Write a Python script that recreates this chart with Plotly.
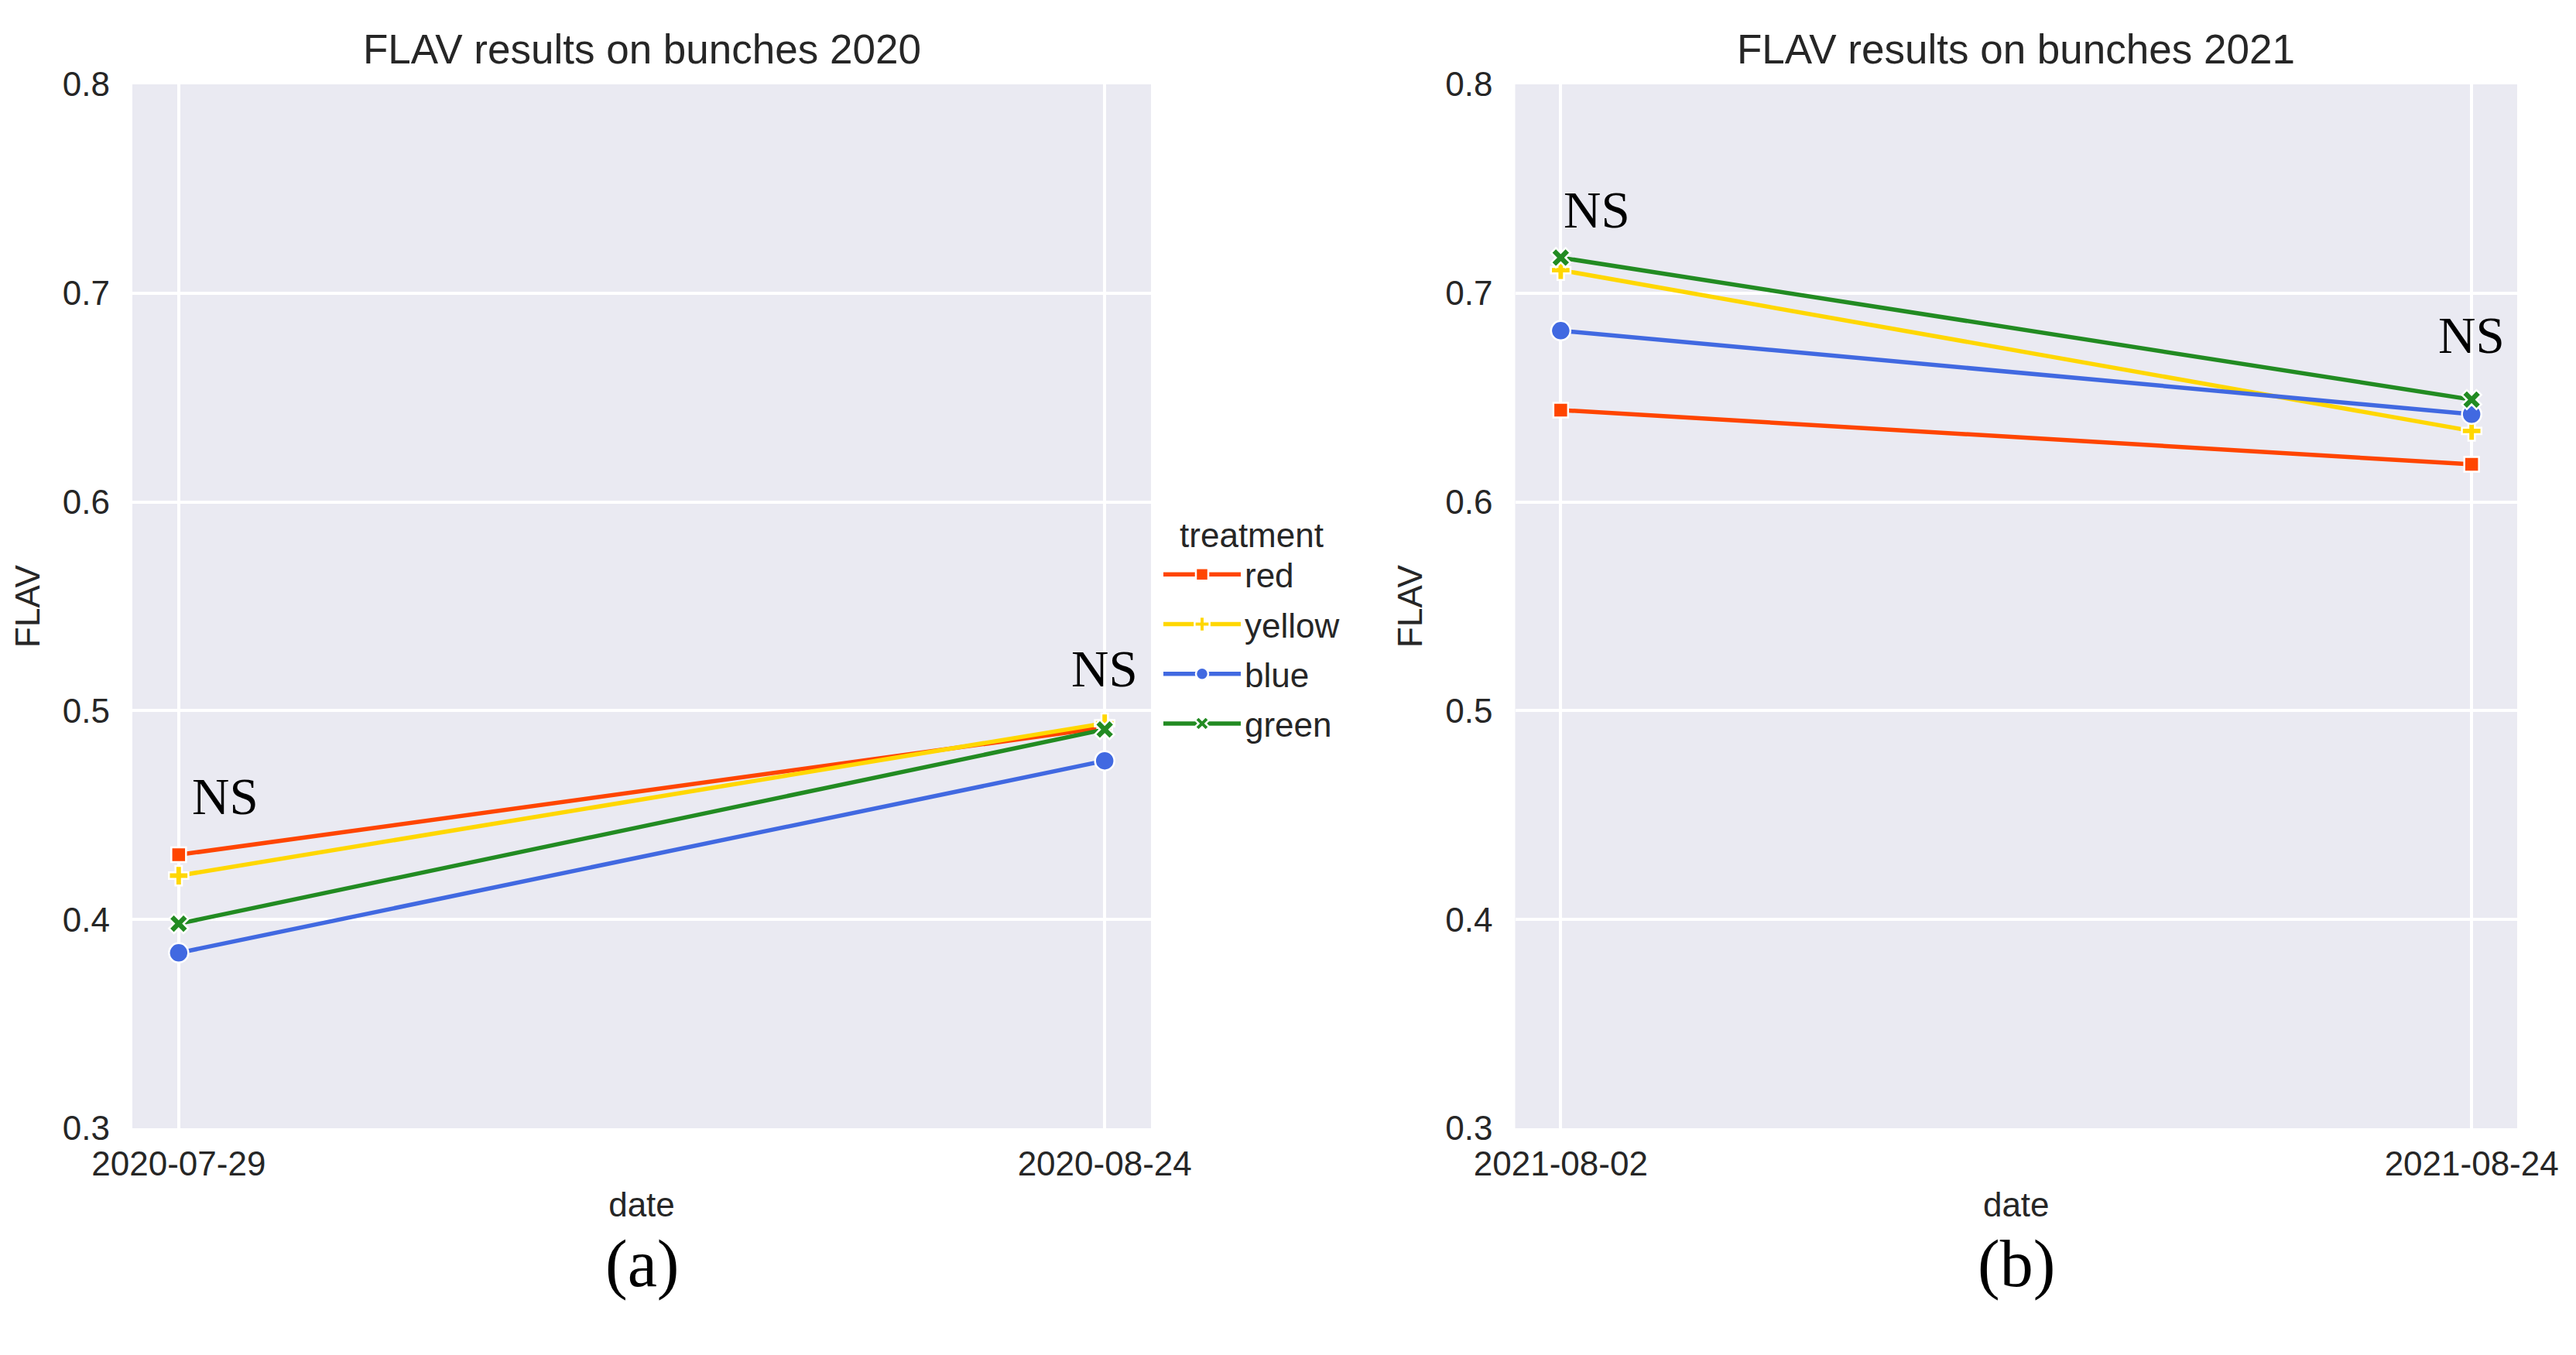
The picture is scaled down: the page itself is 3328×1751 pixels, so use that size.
import plotly.graph_objects as go
from plotly.subplots import make_subplots

# ---- data ----
treatments = ["red", "yellow", "blue", "green"]
colors = {"red": "#FF4500", "yellow": "#FFD700", "blue": "#4169E1", "green": "#228B22"}
symbols = {"red": "square", "yellow": "cross", "blue": "circle", "green": "x"}
msizes = {"red": 19, "yellow": 21, "blue": 25, "green": 22}

dates_2020 = ["2020-07-29", "2020-08-24"]
flav_2020 = {
    "red":    [0.431, 0.492],
    "yellow": [0.421, 0.494],
    "blue":   [0.384, 0.476],
    "green":  [0.398, 0.491],
}
dates_2021 = ["2021-08-02", "2021-08-24"]
flav_2021 = {
    "red":    [0.644, 0.618],
    "yellow": [0.711, 0.634],
    "blue":   [0.682, 0.642],
    "green":  [0.717, 0.649],
}
titles = ["FLAV results on bunches 2020", "FLAV results on bunches 2021"]
y_ticks = [0.3, 0.4, 0.5, 0.6, 0.7, 0.8]

# NS annotations (x index, y value) per panel
ns_2020 = [(0.05, 0.459), (1.0, 0.520)]
ns_2021 = [(0.04, 0.740), (1.0, 0.680)]
panel_labels = ["(a)", "(b)"]

W, H = 3328, 1751
OFF = 8  # page body margin
SANS = "Liberation Sans, Arial, sans-serif"
SERIF = "Liberation Serif, Times New Roman, serif"
TXT = "#262626"


def px(x):
    return (x - OFF) / W


def py(y):
    return 1 - (y - OFF) / H


fig = make_subplots(rows=1, cols=2)

for col, (dates, data) in enumerate([(dates_2020, flav_2020), (dates_2021, flav_2021)], start=1):
    for t in treatments:
        fig.add_trace(go.Scatter(
            x=dates, y=data[t], mode="lines+markers", name=t,
            legendgroup=t, showlegend=(col == 1),
            line=dict(color=colors[t], width=5.5),
            marker=dict(symbol=symbols[t], size=msizes[t], color=colors[t],
                        line=dict(color="white", width=2.5)),
        ), row=1, col=col)

dom1 = [px(171), px(1487)]
dom2 = [px(1957.5), px(3252)]
ydom = [py(1458), py(109)]

axis_common = dict(
    showgrid=True, gridcolor="white", gridwidth=3.5, zeroline=False, showline=False,
    tickfont=dict(family=SANS, size=44, color=TXT),
    ticks="", automargin=False,
)
for i, dom in enumerate([dom1, dom2], start=1):
    xk = "xaxis" if i == 1 else "xaxis2"
    yk = "yaxis" if i == 1 else "yaxis2"
    fig.layout[xk].update(domain=dom, type="category", range=[-0.05, 1.05],
                          title=dict(text="date", font=dict(family=SANS, size=44, color=TXT), standoff=14),
                          ticklabelstandoff=16, **axis_common)
    fig.layout[yk].update(domain=ydom, range=[0.3, 0.8], tickvals=y_ticks, tickformat=".1f",
                          title=dict(text="FLAV", font=dict(family=SANS, size=44, color=TXT), standoff=15),
                          ticklabelstandoff=28, **axis_common)

annotations = []
for i, (dom, title, lab) in enumerate(zip([dom1, dom2], titles, panel_labels)):
    cx = (dom[0] + dom[1]) / 2
    annotations.append(dict(x=cx, y=py(64), xref="paper", yref="paper", text=title, showarrow=False,
                            xanchor="center", yanchor="middle", font=dict(family=SANS, size=53, color=TXT)))
    annotations.append(dict(x=cx, y=py(1633), xref="paper", yref="paper", text=lab, showarrow=False,
                            xanchor="center", yanchor="middle", font=dict(family=SERIF, size=86, color="black")))

for (ns, xr, yr) in [(ns_2020, "x", "y"), (ns_2021, "x2", "y2")]:
    for (xi, yv) in ns:
        annotations.append(dict(x=xi, y=yv, xref=xr, yref=yr, text="NS", showarrow=False,
                                xanchor="center", yanchor="middle",
                                font=dict(family=SERIF, size=67, color="black")))

fig.update_layout(
    width=W, height=H, margin=dict(l=0, r=0, t=0, b=0),
    paper_bgcolor="white", plot_bgcolor="#EAEAF2",
    annotations=annotations,
    showlegend=True,
    legend=dict(
        title=dict(text="treatment", font=dict(family=SANS, size=44, color=TXT), side="top center"),
        font=dict(family=SANS, size=44, color=TXT),
        x=px(1498), y=py(650), xanchor="left", yanchor="top",
        bgcolor="rgba(0,0,0,0)", itemwidth=100, tracegroupgap=4,
    ),
)

fig.write_html("out.html")
